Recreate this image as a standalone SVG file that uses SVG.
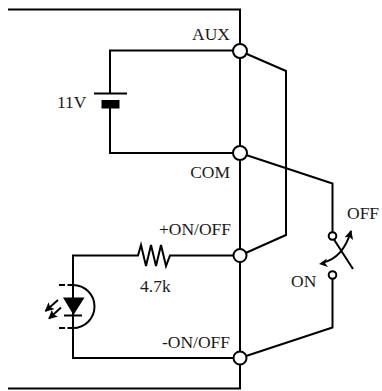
<svg xmlns="http://www.w3.org/2000/svg" width="382" height="391" viewBox="0 0 382 391">
<style>
.w{fill:none;stroke:#000;stroke-width:2}
.t{font-family:"Liberation Serif","Times New Roman",serif;font-size:17.5px;fill:#1a1a1a}
.e{text-anchor:end}
.c{fill:#fff;stroke:#000;stroke-width:2}
</style>
<defs>
<marker id="a" markerUnits="userSpaceOnUse" markerWidth="10" markerHeight="10" refX="8" refY="4.5" orient="auto"><path d="M0 0L9 4.5L0 9L2 4.5Z" fill="#000"/></marker>
</defs>
<g id="connectors">
<path class="w" d="M8 9.500H240V388.500H8"/>
<path class="w" d="M240 50.500H110V93.500M110 108V153H240"/>
<path class="w" d="M240 51L286 71V235L240 255.500"/>
<path class="w" d="M240 153L332.500 183.500V232"/>
<path class="w" d="M332.500 279V327.500L240 358"/>
<path class="w" d="M240 255.500H170L166 266L161 245L156 266L151 245L146 266L141 245L138 255.500H73V358H240"/>
</g>
<g id="battery">
<path class="w" d="M94 93.500H127"/>
<rect x="101.500" y="100" width="18" height="8.500" fill="#000"/>
<text class="t" x="57" y="108">11V</text>
</g>
<g id="led">
<path class="w" d="M73 285A21.500 21.500 0 0 1 73 328"/>
<path class="w" d="M59 285H73M59 328H73" stroke-dasharray="6 2.500"/>
<path d="M63 297.500H84.500L73.500 315Z" fill="#000"/>
<path class="w" d="M64 315.500H82"/>
<path class="w" d="M58 300L45.500 311" marker-end="url(#a)"/>
<path class="w" d="M61 307.500L49 318.500" marker-end="url(#a)"/>
</g>
<g id="switch">
<circle class="c" cx="332.500" cy="236" r="3.800"/>
<circle class="c" cx="332.500" cy="275" r="3.800"/>
<path class="w" d="M334 239.500L353 269"/>
<path class="w" d="M323 262.500Q343 258 351 231" marker-end="url(#a)"/>
<path d="M319 264L327 258.500L325 263L328 267Z" fill="#000"/>
<text class="t" x="347" y="219">OFF</text>
<text class="t" x="291" y="287">ON</text>
</g>
<g id="aux"><circle class="c" cx="240" cy="51" r="7"/><text class="t e" x="230" y="40">AUX</text></g>
<g id="com"><circle class="c" cx="240" cy="153" r="7"/><text class="t e" x="230" y="178">COM</text></g>
<g id="on-plus"><circle class="c" cx="240" cy="255.500" r="6.500"/><text class="t e" x="231" y="235">+ON/OFF</text></g>
<g id="on-minus"><circle class="c" cx="240" cy="358" r="6.500"/><text class="t e" x="230" y="348">-ON/OFF</text></g>
<text class="t" x="140" y="292">4.7k</text>
</svg>
